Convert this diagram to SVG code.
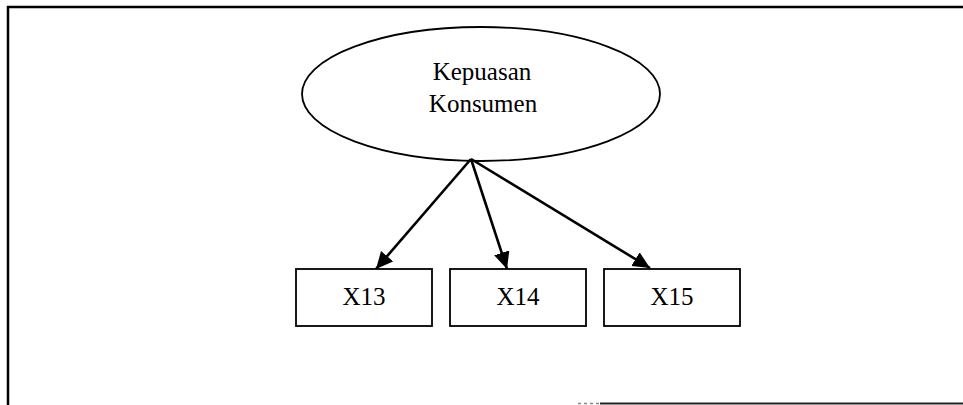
<svg xmlns="http://www.w3.org/2000/svg" width="963" height="405" viewBox="0 0 963 405">
  <style>
    .frame { fill: none; stroke: #000; stroke-width: 2.5; }
    .node-shape { fill: #fff; stroke: #000; stroke-width: 1.8; }
    .label { font-family: "Liberation Serif", "Times New Roman", serif; font-size: 25px; fill: #000; text-anchor: middle; }
    .edge { stroke: #000; stroke-width: 2.6; fill: none; marker-end: url(#arrow); }
  </style>
  <defs>
    <marker id="arrow" markerUnits="userSpaceOnUse" markerWidth="18" markerHeight="18" refX="17" refY="8" orient="auto">
      <path d="M0,0 L17,8 L0,16 z" fill="#000"/>
    </marker>
  </defs>

  <rect width="963" height="405" fill="#fff"/>

  <!-- outer frame: top and left edges, partial bottom edge -->
  <g id="frame">
    <path class="frame" d="M8,405 L8,7 L963,7"/>
    <path d="M600,403.5 L963,403.5" stroke="#222" stroke-width="2"/>
    <path d="M578,403.5 L600,403.5" stroke="#888" stroke-width="1.5" stroke-dasharray="3 3"/>
  </g>

  <g id="kepuasan-konsumen">
    <ellipse class="node-shape" cx="481" cy="94" rx="179" ry="67"/>
    <text class="label" x="482" y="80">Kepuasan</text>
    <text class="label" x="483" y="112">Konsumen</text>
  </g>

  <g id="x13">
    <rect class="node-shape" x="296" y="269" width="136" height="57"/>
    <text class="label" x="364" y="305">X13</text>
  </g>

  <g id="x14">
    <rect class="node-shape" x="450" y="269" width="136" height="57"/>
    <text class="label" x="518" y="305">X14</text>
  </g>

  <g id="x15">
    <rect class="node-shape" x="604" y="269" width="136" height="57"/>
    <text class="label" x="672" y="305">X15</text>
  </g>

  <g id="connectors">
    <line class="edge" x1="471" y1="159" x2="376" y2="269"/>
    <line class="edge" x1="471" y1="159" x2="507" y2="269"/>
    <line class="edge" x1="471" y1="159" x2="650" y2="268"/>
  </g>
</svg>
